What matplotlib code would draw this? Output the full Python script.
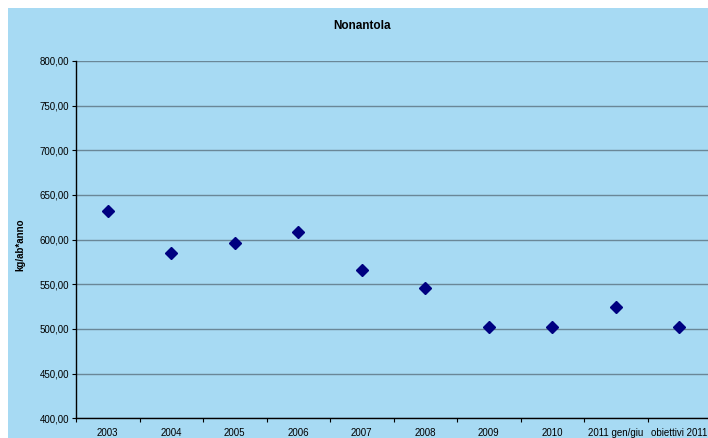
import matplotlib.pyplot as plt
from matplotlib.patches import Rectangle
from matplotlib.ticker import FuncFormatter, FixedLocator

# Data
categories = ['2003', '2004', '2005', '2006', '2007', '2008', '2009', '2010',
              '2011 gen/giu', 'obiettivi 2011']
values = [631.7, 584.7, 595.9, 608.9, 566.0, 545.5, 502.2, 502.2, 524.2, 502.2]
y_ticks = [400, 450, 500, 550, 600, 650, 700, 750, 800]

plt.rcParams['font.family'] = ['Liberation Sans', 'DejaVu Sans']

fig = plt.figure(figsize=(7.08, 4.38), dpi=100)
fig.patch.set_facecolor('white')

# light blue chart area with a small white margin top/left
bg = '#a7daf3'
fig.add_artist(Rectangle((8 / 708, 0), 1, 1 - 8 / 438, transform=fig.transFigure,
                         facecolor=bg, edgecolor='none', zorder=-10))

ax = fig.add_axes([76 / 708, 1 - 418.3 / 438, 635 / 708, 357.3 / 438])
ax.set_facecolor(bg)

x = list(range(len(categories)))
ax.plot(x, values, linestyle='none', marker='D', markersize=6.5,
        color='#000080', zorder=3, clip_on=False)

ax.set_xlim(-0.5, len(categories) - 0.5)
ax.set_ylim(400, 800)

ax.yaxis.set_major_locator(FixedLocator(y_ticks))
ax.yaxis.set_major_formatter(FuncFormatter(lambda v, p: f'{v:.2f}'.replace('.', ',')))
ax.grid(axis='y', color='#6a8797', linewidth=1.0)
ax.set_axisbelow(True)

# category labels centred, tick marks between categories
ax.set_xticks([i - 0.5 for i in range(len(categories) + 1)])
ax.set_xticklabels([])
ax.set_xticks(x, minor=True)
ax.set_xticklabels(categories, minor=True)
ax.tick_params(axis='x', which='minor', length=0, labelsize=7, pad=7)
ax.tick_params(axis='x', which='major', length=3, direction='out', width=0.8)
ax.tick_params(axis='y', length=3, direction='out', width=0.8, labelsize=7, pad=2)

for s in ['top', 'right']:
    ax.spines[s].set_visible(False)
for s in ['left', 'bottom']:
    ax.spines[s].set_color('black')
    ax.spines[s].set_linewidth(1.0)

fig.text(362 / 708, 1 - 26 / 438, 'Nonantola', ha='center', va='center',
         fontsize=8.5, fontweight='bold')
fig.text(20 / 708, 1 - 245 / 438, 'kg/ab*anno', ha='center', va='center',
         rotation=90, fontsize=7, fontweight='bold')

fig.savefig('out.png', dpi=100, facecolor=fig.get_facecolor())
